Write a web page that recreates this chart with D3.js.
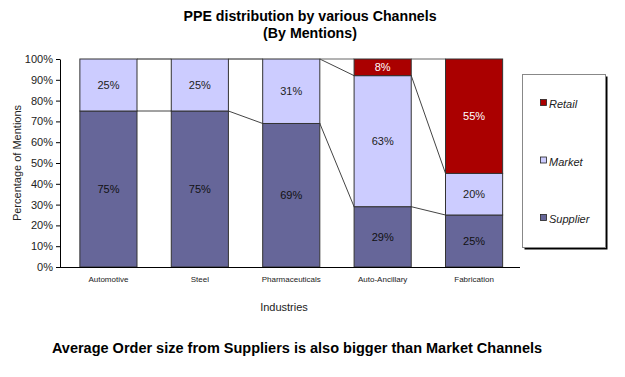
<!DOCTYPE html>
<html>
<head>
<meta charset="utf-8">
<script src="https://cdn.jsdelivr.net/npm/d3@7/dist/d3.min.js"></script>
<style>
  body { margin: 0; background: #fff; }
  text { font-family: "Liberation Sans", Arial, sans-serif; }
</style>
</head>
<body>
<div id="container"></div>
<script>
const industries = ['Automotive', 'Steel', 'Pharmaceuticals', 'Auto-Ancillary', 'Fabrication'];
const supplier = [75, 75, 69, 29, 25];
const market = [25, 25, 31, 63, 20];
const retail = [0, 0, 0, 8, 55];
const seriesNames = ['Supplier', 'Market', 'Retail'];
const yTicks = [0, 10, 20, 30, 40, 50, 60, 70, 80, 90, 100];

const width = 625, height = 377;
const colors = { Supplier: '#666699', Market: '#ccccff', Retail: '#aa0000' };
const labelColors = { Supplier: '#111', Market: '#222', Retail: '#fff' };

const svg = d3.select('#container').append('svg')
  .attr('width', width).attr('height', height);

const x = d3.scaleBand().domain(industries).range([62.5, 520]).paddingInner(0.375).paddingOuter(0.19);
const y = d3.scaleLinear().domain([0, 100]).range([267, 59]);

const table = industries.map((name, i) => ({ name, Supplier: supplier[i], Market: market[i], Retail: retail[i] }));
const stacked = d3.stack().keys(seriesNames)(table);

// series connector lines
stacked.forEach(layer => {
  for (let i = 0; i < layer.length - 1; i++) {
    const top = layer[i][1] === 100 && layer[i + 1][1] === 100;
    svg.append('line')
      .attr('x1', x(industries[i]) + x.bandwidth())
      .attr('x2', x(industries[i + 1]))
      .attr('y1', y(layer[i][1]))
      .attr('y2', y(layer[i + 1][1]))
      .attr('stroke', top ? '#666' : '#444').attr('stroke-width', 1);
  }
});

// bars
stacked.forEach(layer => {
  const key = layer.key;
  layer.forEach((d, i) => {
    if (d[1] - d[0] <= 0) return;
    svg.append('rect')
      .attr('x', x(industries[i]))
      .attr('width', x.bandwidth())
      .attr('y', y(d[1]))
      .attr('height', y(d[0]) - y(d[1]))
      .attr('fill', colors[key])
      .attr('stroke', '#333').attr('stroke-width', 1);
    svg.append('text')
      .attr('x', x(industries[i]) + x.bandwidth() / 2)
      .attr('y', y((d[0] + d[1]) / 2) + 4)
      .attr('text-anchor', 'middle')
      .attr('font-size', 11)
      .attr('fill', labelColors[key])
      .text((d[1] - d[0]) + '%');
  });
});

// axes
const yAxis = svg.append('g').attr('transform', 'translate(60,0)')
  .call(d3.axisLeft(y).tickValues(yTicks).tickFormat(d => d + '%').tickSize(4).tickSizeOuter(0));
yAxis.select('.domain').attr('stroke', '#000');
yAxis.selectAll('text').attr('font-size', 11).attr('fill', '#222')
  .style('font-family', '"Liberation Sans", Arial, sans-serif');

svg.append('line').attr('x1', 60).attr('x2', 520).attr('y1', 267.5).attr('y2', 267.5).attr('stroke', '#000');

svg.append('g').selectAll('text').data(industries).enter().append('text')
  .attr('x', d => x(d) + x.bandwidth() / 2)
  .attr('y', 282)
  .attr('text-anchor', 'middle')
  .attr('font-size', 8)
  .attr('fill', '#222')
  .text(d => d);

// titles
svg.append('text').attr('x', 310).attr('y', 21).attr('text-anchor', 'middle')
  .attr('font-size', 14.2).attr('font-weight', 'bold').text('PPE distribution by various Channels');
svg.append('text').attr('x', 310).attr('y', 38).attr('text-anchor', 'middle')
  .attr('font-size', 14.2).attr('font-weight', 'bold').text('(By Mentions)');

svg.append('text').attr('transform', 'translate(21,163) rotate(-90)').attr('text-anchor', 'middle')
  .attr('font-size', 11).attr('fill', '#222').text('Percentage of Mentions');
svg.append('text').attr('x', 284).attr('y', 311).attr('text-anchor', 'middle')
  .attr('font-size', 11).attr('fill', '#222').text('Industries');

svg.append('text').attr('x', 297).attr('y', 353).attr('text-anchor', 'middle')
  .attr('font-size', 14.5).attr('font-weight', 'bold').text('Average Order size from Suppliers is also bigger than Market Channels');

// legend
const lg = svg.append('g').attr('transform', 'translate(522,74)');
lg.append('rect').attr('x', 2.5).attr('y', 2.5).attr('width', 83).attr('height', 173).attr('fill', '#000');
lg.append('rect').attr('x', 0.5).attr('y', 0.5).attr('width', 83).attr('height', 173)
  .attr('fill', '#fff').attr('stroke', '#888');
const legendItems = ['Retail', 'Market', 'Supplier'];
legendItems.forEach((k, i) => {
  const gy = 30 + i * 57.5;
  lg.append('rect').attr('x', 18.5).attr('y', gy - 4.5).attr('width', 6).attr('height', 6)
    .attr('fill', colors[k]).attr('stroke', '#222').attr('stroke-width', 0.8);
  lg.append('text').attr('x', 27).attr('y', gy + 4).attr('font-size', 11)
    .attr('font-style', 'italic').attr('fill', '#222').text(k);
});
</script>
</body>
</html>
